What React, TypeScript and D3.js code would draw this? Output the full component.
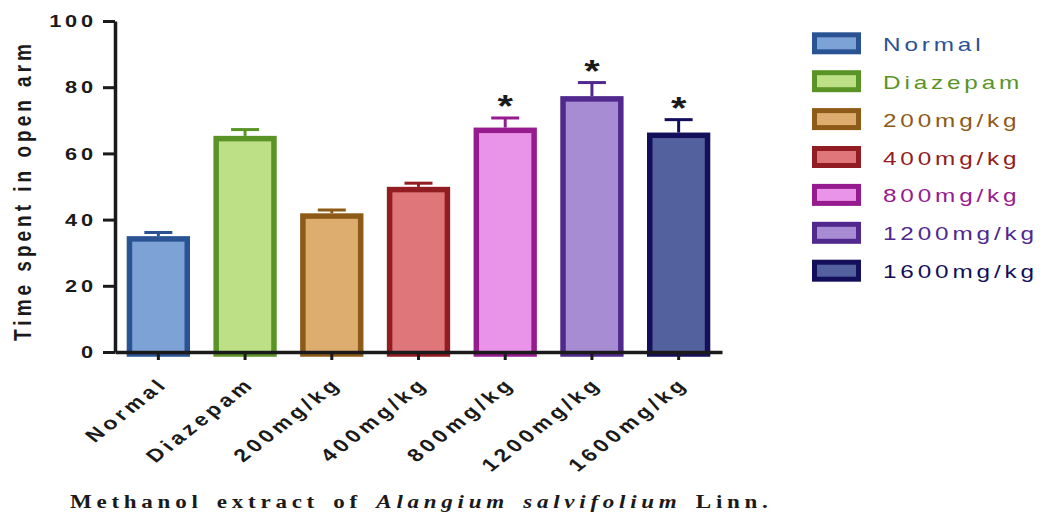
import React, { useEffect, useRef } from "react";
import * as d3 from "d3";

const groups = ["Normal", "Diazepam", "200mg/kg", "400mg/kg", "800mg/kg", "1200mg/kg", "1600mg/kg"];
const means = [35.0, 65.3, 41.9, 49.9, 67.8, 77.3, 66.3];
const sems = [1.1, 1.9, 1.0, 1.1, 2.9, 4.1, 3.9];
const significant = [false, false, false, false, true, true, true];
const fills = ["#7da3d6", "#bddf86", "#dcad6f", "#df7679", "#e994e8", "#a78cd3", "#53629e"];
const strokes = ["#2a5394", "#5a9427", "#8d5a17", "#911c22", "#951b8f", "#51288e", "#130f5b"];
const yTicks = [0, 20, 40, 60, 80, 100];

const WIDTH = 1042;
const HEIGHT = 514;
const SANS = "'Liberation Sans', Arial, sans-serif";
const SERIF = "'Liberation Serif', 'Times New Roman', serif";
// the original export is a bit wider than tall, so text is stretched sideways
const S = 1.28;

export default function App() {
    const svgRef = useRef<SVGSVGElement | null>(null);

    useEffect(() => {
        if (!svgRef.current) return;
        const svg = d3.select(svgRef.current);
        svg.selectAll("*").remove();

        const left = 115, right = 722, top = 21, bottom = 352;

        const x = d3.scaleBand()
            .domain(groups)
            .range([left, right])
            .paddingInner(0.27)
            .paddingOuter(0.135);

        const y = d3.scaleLinear()
            .domain([0, 100])
            .range([bottom, top]);

        const data = groups.map((g, i) => ({
            g, mean: means[i], sem: sems[i], sig: significant[i], fill: fills[i], stroke: strokes[i]
        }));

        // bars
        const sw = 5.5;
        svg.append("g")
            .selectAll("rect")
            .data(data)
            .join("rect")
            .attr("x", d => x(d.g)! + sw / 2)
            .attr("width", x.bandwidth() - sw)
            .attr("y", d => y(d.mean) + sw / 2)
            .attr("height", d => bottom - y(d.mean) - sw / 2 + 2)
            .attr("fill", d => d.fill)
            .attr("stroke", d => d.stroke)
            .attr("stroke-width", sw);

        // error bars (upper only)
        const capW = 28;
        const err = svg.append("g");
        err.selectAll("line.v")
            .data(data)
            .join("line")
            .attr("class", "v")
            .attr("x1", d => x(d.g)! + x.bandwidth() / 2)
            .attr("x2", d => x(d.g)! + x.bandwidth() / 2)
            .attr("y1", d => y(d.mean))
            .attr("y2", d => y(d.mean + d.sem))
            .attr("stroke", d => d.stroke)
            .attr("stroke-width", 3);
        err.selectAll("line.cap")
            .data(data)
            .join("line")
            .attr("class", "cap")
            .attr("x1", d => x(d.g)! + x.bandwidth() / 2 - capW / 2)
            .attr("x2", d => x(d.g)! + x.bandwidth() / 2 + capW / 2)
            .attr("y1", d => y(d.mean + d.sem))
            .attr("y2", d => y(d.mean + d.sem))
            .attr("stroke", d => d.stroke)
            .attr("stroke-width", 3);

        // asterisks
        svg.append("g")
            .selectAll("text")
            .data(data.filter(d => d.sig))
            .join("text")
            .attr("transform", d => `translate(${x(d.g)! + x.bandwidth() / 2},${y(d.mean + d.sem) - 1}) scale(${S},1)`)
            .attr("text-anchor", "middle")
            .attr("font-family", SANS)
            .attr("font-weight", "bold")
            .attr("font-size", 31)
            .attr("fill", "#1a1a1a")
            .text("*");

        // y axis
        const yAxis = d3.axisLeft(y)
            .tickValues(yTicks)
            .tickSize(12)
            .tickSizeOuter(0)
            .tickFormat(() => "");
        const yg = svg.append("g")
            .attr("transform", `translate(${left},0)`)
            .call(yAxis);
        yg.select(".domain").attr("stroke", "#1a1a1a").attr("stroke-width", 3.5);
        yg.selectAll(".tick line").attr("stroke", "#1a1a1a").attr("stroke-width", 3);

        svg.append("g")
            .selectAll("text")
            .data(yTicks)
            .join("text")
            .attr("transform", d => `translate(97,${y(d)}) scale(${S},1)`)
            .attr("dy", "0.36em")
            .attr("text-anchor", "end")
            .attr("font-family", SANS)
            .attr("font-weight", "bold")
            .attr("font-size", 17)
            .attr("letter-spacing", 3)
            .attr("fill", "#1a1a1a")
            .text(d => String(d));

        // x axis
        const xAxis = d3.axisBottom(x)
            .tickSize(8)
            .tickSizeOuter(0)
            .tickFormat(() => "");
        const xg = svg.append("g")
            .attr("transform", `translate(0,${bottom})`)
            .call(xAxis);
        xg.select(".domain").attr("stroke", "#1a1a1a").attr("stroke-width", 3.5);
        xg.selectAll(".tick line").attr("stroke", "#1a1a1a").attr("stroke-width", 3);

        svg.append("g")
            .selectAll("text")
            .data(groups)
            .join("text")
            .attr("transform", d => `translate(${x(d)! + x.bandwidth() / 2 + 11},385) scale(${S},1) rotate(-45)`)
            .attr("text-anchor", "end")
            .attr("font-family", SANS)
            .attr("font-weight", "bold")
            .attr("font-size", 18)
            .attr("letter-spacing", 3.4)
            .attr("fill", "#1a1a1a")
            .text(d => d);

        // y title
        svg.append("text")
            .attr("transform", `translate(31,${(top + bottom) / 2 + 4}) scale(${S},1) rotate(-90)`)
            .attr("text-anchor", "middle")
            .attr("font-family", SANS)
            .attr("font-weight", "bold")
            .attr("font-size", 19)
            .attr("letter-spacing", 4)
            .attr("fill", "#1a1a1a")
            .text("Time spent in open arm");

        // x title
        const xt = svg.append("text")
            .attr("transform", `translate(70,508) scale(${S},1)`)
            .attr("font-family", SERIF)
            .attr("font-weight", "bold")
            .attr("font-size", 18)
            .attr("letter-spacing", 3.7)
            .attr("word-spacing", 3)
            .attr("fill", "#1a1a1a");
        xt.append("tspan").text("Methanol extract of ");
        xt.append("tspan").attr("font-style", "italic").text("Alangium salvifolium");
        xt.append("tspan").text(" Linn.");

        // legend
        const ly = d3.scalePoint<string>()
            .domain(groups)
            .range([43.3, 43.3 + 6 * 37.9]);
        const item = svg.append("g")
            .selectAll("g")
            .data(data)
            .join("g")
            .attr("transform", d => `translate(812,${ly(d.g)})`);
        item.append("rect")
            .attr("x", 2.5)
            .attr("y", -11 + 2.5)
            .attr("width", 49 - 5)
            .attr("height", 22 - 5)
            .attr("fill", d => d.fill)
            .attr("stroke", d => d.stroke)
            .attr("stroke-width", 5);
        item.append("text")
            .attr("transform", `translate(71,7.5) scale(${S},1)`)
            .attr("font-family", SANS)
            .attr("font-size", 19)
            .attr("letter-spacing", 3)
            .attr("fill", d => d.stroke)
            .text(d => d.g);
    }, []);

    return (
        <div style={{ position: "absolute", left: 0, top: 0 }}>
            <svg
                ref={svgRef}
                width={WIDTH}
                height={HEIGHT}
                style={{ display: "block", background: "#fff" }}
            />
        </div>
    );
}
